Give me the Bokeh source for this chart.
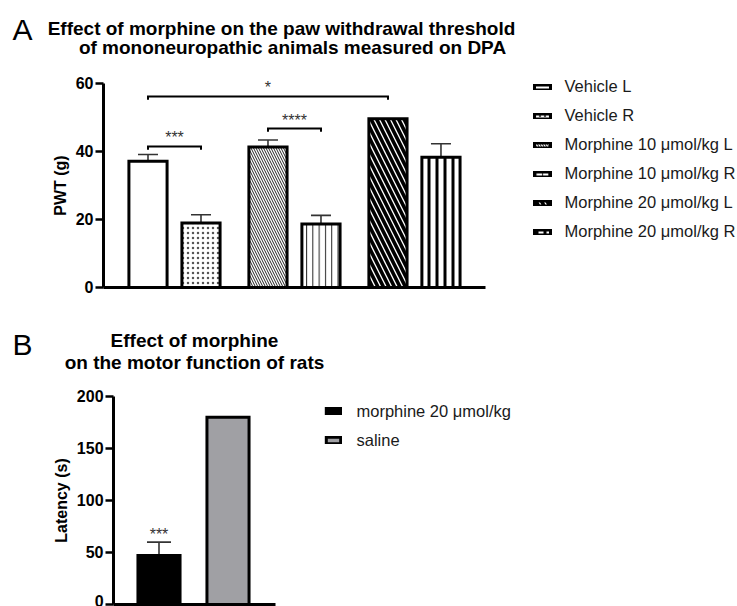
from bokeh.plotting import figure
from bokeh.models import (Range1d, Whisker, TeeHead, ColumnDataSource, LinearAxis,
                          Legend, LegendItem, Label, FixedTicker)
from bokeh.layouts import column
from bokeh.embed import file_html
from bokeh.resources import INLINE
from bokeh.core.properties import value

FONT = "Liberation Sans"

# ---------------- Panel A data ----------------
groups_a = ["Vehicle", "Morphine 10 μmol/kg", "Morphine 20 μmol/kg"]
sides_a = ["L", "R"]
labels_a = ["Vehicle L", "Vehicle R", "Morphine 10 μmol/kg L", "Morphine 10 μmol/kg R",
            "Morphine 20 μmol/kg L", "Morphine 20 μmol/kg R"]
pwt_mean = [37.1, 19.0, 41.3, 18.7, 49.6, 38.3]
pwt_sem = [2.0, 2.4, 2.1, 2.5, 0.0, 4.0]
yticks_a = [0, 20, 40, 60]
sig_a_pairs = [(0, 1), (2, 3), (0, 4)]
sig_a_y = [41.5, 46.8, 56.2]
sig_a_text = ["***", "****", "*"]
sig_a_text_y = [44.0, 49.0, 58.8]

# ---------------- Panel B data ----------------
cats_b = ["morphine 20 μmol/kg", "saline"]
lat_mean = [47.0, 180.0]
lat_sem = [13.0, 0.0]
yticks_b = [0, 50, 100, 150, 200]
sig_b_text = ["***", ""]
sig_b_text_y = [67.0, 0.0]

# ---------------- layout / style constants ----------------
GROUP_GAP_A = 0.264          # extra space between groups (in bar-slot units)
hatch_a = [None, "dot", "left_diagonal_line", "vertical_line", "left_diagonal_line", "vertical_line"]
hatch_scale_a = [1, 5, 5, 6.3, 11, 8]
hatch_weight_a = [1, 1.2, 1, 1, 3.6, 3]
hatch_color_a = ["black", "#555555", "#222222", "#222222", "black", "black"]
fill_b = ["black", "#a0a0a4"]


def make_axes(p, ylabel, yticks, ybounds, x_at, xbounds, label_standoff):
    yax = LinearAxis(fixed_location=x_at, bounds=ybounds, ticker=FixedTicker(ticks=yticks))
    yax.axis_line_width = 3
    yax.axis_line_color = "black"
    yax.major_tick_line_width = 2.5
    yax.major_tick_line_color = "black"
    yax.major_tick_out = 8
    yax.major_tick_in = 0
    yax.minor_tick_line_color = None
    yax.major_label_text_font = FONT
    yax.major_label_text_font_style = "bold"
    yax.major_label_text_font_size = "16px"
    yax.major_label_text_color = "black"
    yax.major_label_standoff = 2
    yax.axis_label = ylabel
    yax.axis_label_text_font = FONT
    yax.axis_label_text_font_style = "bold"
    yax.axis_label_text_font_size = "16px"
    yax.axis_label_text_color = "black"
    yax.axis_label_standoff = label_standoff
    p.add_layout(yax, "left")
    xax = LinearAxis(fixed_location=0, bounds=xbounds, ticker=FixedTicker(ticks=[]))
    xax.axis_line_width = 3
    xax.axis_line_color = "black"
    xax.major_tick_line_color = None
    xax.minor_tick_line_color = None
    xax.major_label_text_font_size = "0px"
    p.add_layout(xax, "below")


def add_text_label(p, x, y, text, size, bold=True, align="center"):
    p.add_layout(Label(x=x, y=y, x_units="screen", y_units="screen", text=text,
                       text_align=align, text_baseline="middle", text_font=FONT,
                       text_font_style="bold" if bold else "normal",
                       text_font_size=size, text_color="black"))


def base_fig(w, h, xr, yr):
    p = figure(width=w, height=h, x_range=xr, y_range=yr, x_axis_type=None, y_axis_type=None,
               output_backend="svg", toolbar_location=None,
               min_border_left=0, min_border_right=0, min_border_top=0, min_border_bottom=0)
    p.outline_line_color = None
    p.background_fill_color = "white"
    p.border_fill_color = "white"
    return p


# ---------------- Panel A ----------------
x_a = [gi * (len(sides_a) + GROUP_GAP_A) + si
       for gi in range(len(groups_a)) for si in range(len(sides_a))]

pA = base_fig(737, 313, Range1d(-2.783, 11.123), Range1d(-7.647, 84.41))
make_axes(pA, "PWT (g)", yticks_a, (0, 60), x_a[0] - 0.84, (x_a[0] - 0.84, x_a[-1] + 0.84), 4)

items_a = []
for i in range(len(x_a)):
    src = ColumnDataSource(dict(x=[x_a[i]], top=[pwt_mean[i]]))
    kw = {}
    if hatch_a[i]:
        kw = dict(hatch_pattern=hatch_a[i], hatch_scale=hatch_scale_a[i],
                  hatch_weight=hatch_weight_a[i], hatch_color=hatch_color_a[i])
    r = pA.vbar(x="x", top="top", width=0.72, source=src, fill_color="white",
                line_color="black", line_width=3, line_join="miter", **kw)
    items_a.append(LegendItem(label=labels_a[i], renderers=[r]))

err_a = ColumnDataSource(dict(base=x_a, lower=pwt_mean,
                              upper=[m + s for m, s in zip(pwt_mean, pwt_sem)]))
pA.add_layout(Whisker(base="base", lower="lower", upper="upper", source=err_a,
                      dimension="height", line_width=1.6, line_color="#333333",
                      upper_head=TeeHead(size=20, line_width=1.6, line_color="#333333"),
                      lower_head=None))

br_xs, br_ys, star_x = [], [], []
for (i, j), y in zip(sig_a_pairs, sig_a_y):
    br_xs.append([x_a[i], x_a[i], x_a[j], x_a[j]])
    br_ys.append([y - 1.0, y, y, y - 1.0])
    star_x.append((x_a[i] + x_a[j]) / 2)
pA.multi_line(xs=br_xs, ys=br_ys, line_color="black", line_width=2, line_join="miter")
pA.text(x=star_x, y=sig_a_text_y, text=sig_a_text, text_align="center",
        text_baseline="middle", text_font=value(FONT), text_font_size="16px",
        text_color="#333333")

legA = Legend(items=items_a, location=(531.5, 71.3), glyph_width=20, glyph_height=6,
              label_standoff=13, spacing=9, padding=0, margin=0, label_height=20,
              border_line_color=None, background_fill_alpha=0,
              label_text_font=FONT, label_text_font_size="16.5px", label_text_color="#1a1a1a")
pA.add_layout(legA)

add_text_label(pA, 12, 284, "A", "30px", bold=False, align="left")
add_text_label(pA, 281, 285, "Effect of morphine on the paw withdrawal threshold", "19px")
add_text_label(pA, 292, 266, "of mononeuropathic animals measured on DPA", "19px")

# ---------------- Panel B ----------------
x_b = list(range(len(cats_b)))
pB = base_fig(737, 293, Range1d(-2.297, 8.384), Range1d(-1.923, 279.8))
make_axes(pB, "Latency (s)", yticks_b, (0, 200), x_b[0] - 0.659, (x_b[0] - 0.659, x_b[-1] + 0.689), 4)

items_b = []
for i in range(len(x_b)):
    src = ColumnDataSource(dict(x=[x_b[i]], top=[lat_mean[i]]))
    r = pB.vbar(x="x", top="top", width=0.61, source=src, fill_color=fill_b[i],
                line_color="black", line_width=3, line_join="miter")
    items_b.append(LegendItem(label=cats_b[i], renderers=[r]))

err_b = ColumnDataSource(dict(base=x_b, lower=lat_mean,
                              upper=[m + s for m, s in zip(lat_mean, lat_sem)]))
pB.add_layout(Whisker(base="base", lower="lower", upper="upper", source=err_b,
                      dimension="height", line_width=1.6, line_color="#333333",
                      upper_head=TeeHead(size=24, line_width=1.6, line_color="#333333"),
                      lower_head=None))
pB.text(x=x_b, y=sig_b_text_y, text=sig_b_text, text_align="center",
        text_baseline="middle", text_font=value(FONT), text_font_size="16px",
        text_color="#333333")

legB = Legend(items=items_b, location=(323.5, 156), glyph_width=18, glyph_height=8,
              label_standoff=15, spacing=9, padding=0, margin=0, label_height=20,
              border_line_color=None, background_fill_alpha=0,
              label_text_font=FONT, label_text_font_size="16.5px", label_text_color="#1a1a1a")
pB.add_layout(legB)

add_text_label(pB, 12, 262, "B", "30px", bold=False, align="left")
add_text_label(pB, 194, 266, "Effect of morphine", "19px")
add_text_label(pB, 194, 244, "on the motor function of rats", "19px")

layout = column(pA, pB, spacing=0)
open("out.html", "w").write(file_html(layout, INLINE))
